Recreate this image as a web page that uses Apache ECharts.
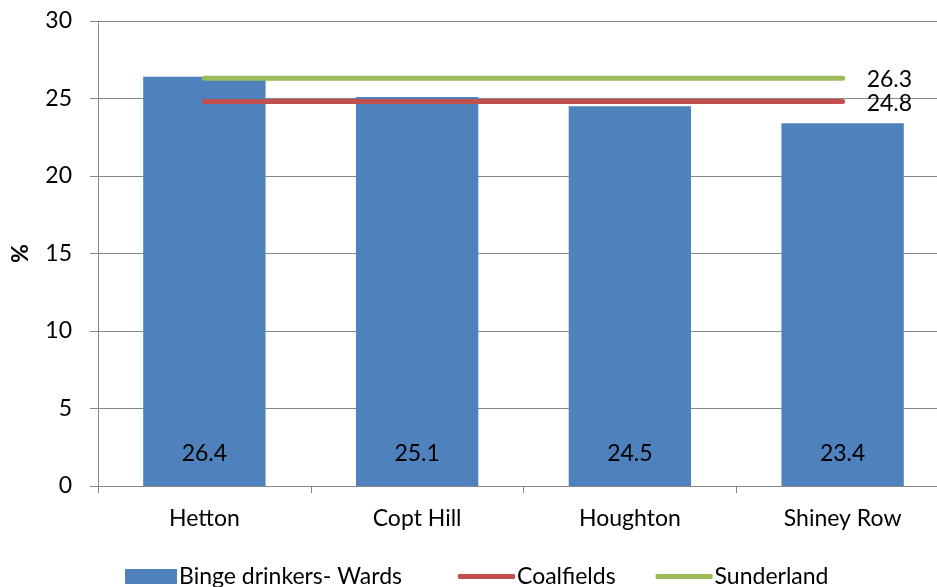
<!DOCTYPE html>
<html>
<head>
<meta charset="utf-8">
<script src="https://cdn.jsdelivr.net/npm/echarts@6/dist/echarts.min.js"></script>
<style>
  html, body { margin: 0; padding: 0; background: #fff; }
  #chart { width: 937px; height: 587px; }
</style>
</head>
<body>
<div id="chart"></div>
<script>
// Ward names and the percentage of binge drinkers in each
const wards = ['Hetton', 'Copt Hill', 'Houghton', 'Shiney Row'];
const wardValues = [26.4, 25.1, 24.5, 23.4];
// Area-level comparators, drawn as flat lines across the wards
const coalfieldsValue = 24.8;
const sunderlandValue = 26.3;
const yTicks = { min: 0, max: 30, step: 5 };

const FONT = 'Lato, "Open Sans", sans-serif';
const GRAY = '#878787';
const FS = 23;

const flat = v => wards.map(() => v);

const legendText = { fontFamily: FONT, fontSize: FS, color: '#000', padding: [0, 0, 0, -3] };

const chart = echarts.init(document.getElementById('chart'), null, { renderer: 'canvas' });
chart.setOption({
  animation: false,
  textStyle: { fontFamily: FONT, color: '#000' },
  grid: {
    left: 98, top: 21, width: 851, bottom: 101,
    containLabel: false,
    outerBoundsMode: 'none'
  },
  legend: [
    {
      top: 560,
      left: 120,
      itemWidth: 52,
      itemHeight: 15,
      textStyle: legendText,
      data: [{ name: 'Binge drinkers- Wards', icon: 'rect' }]
    },
    {
      top: 560,
      left: 453,
      itemGap: 40,
      itemWidth: 57,
      itemHeight: 5,
      textStyle: legendText,
      data: [
        { name: 'Coalfields', icon: 'roundRect' },
        { name: 'Sunderland', icon: 'roundRect' }
      ]
    }
  ],
  xAxis: {
    type: 'category',
    data: wards,
    axisLine: { lineStyle: { color: GRAY, width: 1 } },
    axisTick: { show: true, length: 7, lineStyle: { color: GRAY } },
    axisLabel: { fontSize: FS, color: '#000', margin: 21, fontFamily: FONT }
  },
  yAxis: {
    type: 'value',
    min: yTicks.min,
    max: yTicks.max,
    interval: yTicks.step,
    name: '%',
    nameLocation: 'middle',
    nameGap: 66,
    nameRotate: 90,
    nameTextStyle: { fontSize: FS, fontWeight: 'bold', color: '#000', fontFamily: FONT },
    axisLine: { show: true, lineStyle: { color: GRAY, width: 1 } },
    axisTick: { show: true, length: 8, lineStyle: { color: GRAY } },
    axisLabel: { fontSize: FS, color: '#000', margin: 26, fontFamily: FONT },
    splitLine: { show: true, lineStyle: { color: GRAY, width: 1 } }
  },
  series: [
    {
      name: 'Binge drinkers- Wards',
      type: 'bar',
      data: wardValues,
      barWidth: '57.5%',
      itemStyle: { color: '#4F81BD' },
      label: {
        show: true,
        position: 'insideBottom',
        distance: 21,
        fontSize: FS,
        color: '#000',
        fontFamily: FONT
      },
      z: 1
    },
    {
      name: 'Coalfields',
      type: 'line',
      data: flat(coalfieldsValue),
      symbol: 'none',
      lineStyle: { color: '#C0504D', width: 5, cap: 'round' },
      itemStyle: { color: '#C0504D' },
      endLabel: {
        show: true, distance: 24, fontSize: FS, color: '#000', fontFamily: FONT,
        offset: [0, 2],
        formatter: p => p.value
      },
      z: 3
    },
    {
      name: 'Sunderland',
      type: 'line',
      data: flat(sunderlandValue),
      symbol: 'none',
      lineStyle: { color: '#9BBB59', width: 5, cap: 'round' },
      itemStyle: { color: '#9BBB59' },
      endLabel: {
        show: true, distance: 24, fontSize: FS, color: '#000', fontFamily: FONT,
        offset: [0, 1],
        formatter: p => p.value
      },
      z: 4
    }
  ]
});
</script>
</body>
</html>
